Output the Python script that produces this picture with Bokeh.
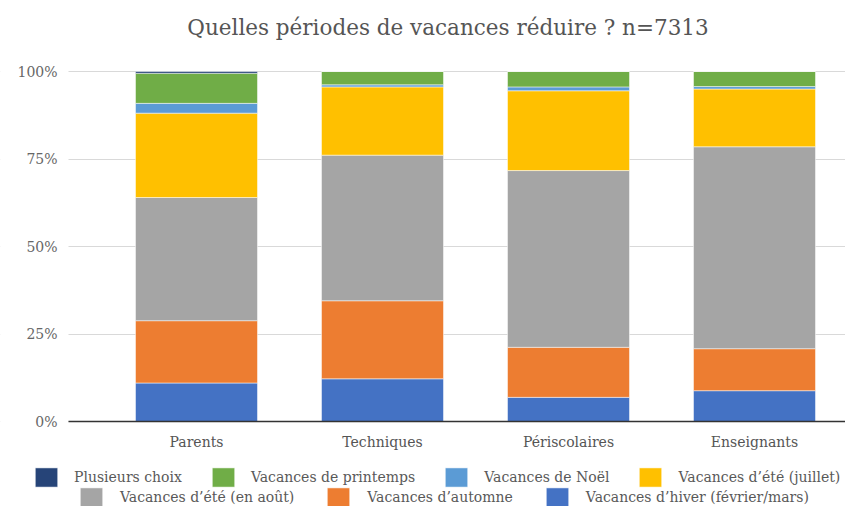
from bokeh.plotting import figure
from bokeh.models import (ColumnDataSource, Range1d, FixedTicker, Legend, LegendItem,
                          PrintfTickFormatter, BoxAnnotation, Label)
from bokeh.embed import file_html
from bokeh.resources import INLINE

# ---- data (percent of answers per group) ----
categories = ["Parents", "Techniques", "Périscolaires", "Enseignants"]
hiver      = [11.0, 12.2, 6.9, 8.8]    # Vacances d'hiver (février/mars)
automne    = [17.8, 22.3, 14.3, 12.0]  # Vacances d'automne
aout       = [35.2, 41.6, 50.5, 57.7]  # Vacances d'été (en août)
juillet    = [24.1, 19.5, 22.8, 16.5]  # Vacances d'été (juillet)
noel       = [2.8, 0.6, 1.1, 0.7]      # Vacances de Noël
printemps  = [8.6, 3.8, 4.4, 4.3]      # Vacances de printemps
plusieurs  = [0.5, 0.0, 0.0, 0.0]      # Plusieurs choix

series_keys = ["hiver", "automne", "aout", "juillet", "noel", "printemps", "plusieurs"]
series_labels = ["Vacances d\u2019hiver (février/mars)", "Vacances d\u2019automne",
                 "Vacances d\u2019été (en août)", "Vacances d\u2019été (juillet)",
                 "Vacances de Noël", "Vacances de printemps", "Plusieurs choix"]
colors = ["#4472C4", "#ED7D31", "#A5A5A5", "#FFC000", "#5B9BD5", "#70AD47", "#264478"]
y_ticks = [0, 25, 50, 75, 100]
title_text = "Quelles périodes de vacances réduire ? n=7313"

source = ColumnDataSource(dict(
    x=list(range(len(categories))),
    hiver=hiver, automne=automne, aout=aout, juillet=juillet,
    noel=noel, printemps=printemps, plusieurs=plusieurs,
))

FONT = "DejaVu Serif"

# layout constants (pixels)
W, H = 845, 506
TOP = 71            # pixel row of 100 %
ZERO_Y = 421        # pixel row of 0 %
PLOT_LEFT = 68      # left end of grid / axis line
BAND = 186          # pixels per category
FIRST_CENTER = 196  # pixel x of the first bar centre
TITLE_X, TITLE_BASE = 447.5, 27

ppu_y = (ZERO_Y - TOP) / 100.0
y_start = -(H - ZERO_Y) / ppu_y
y_end = 100 + TOP / ppu_y
x_start = -FIRST_CENTER / BAND
x_end = (W - FIRST_CENTER) / BAND
x_left = x_start + PLOT_LEFT / BAND

p = figure(width=W, height=H, output_backend="svg", toolbar_location=None,
           x_range=Range1d(x_start, x_end), y_range=Range1d(y_start, y_end),
           min_border_left=0, min_border_right=0, min_border_top=0,
           min_border_bottom=0)

renderers = p.vbar_stack(series_keys, x="x", width=0.656, color=colors,
                         line_color="white", line_width=0.5, source=source)

p.outline_line_color = None
p.background_fill_color = "white"
p.border_fill_color = "white"

# title
p.add_layout(Label(x=x_start + TITLE_X / BAND, y=100 + (TOP - TITLE_BASE) / ppu_y,
                   text=title_text, text_align="center", text_baseline="alphabetic",
                   text_font=FONT, text_font_size="21.5px", text_color="#555555"))

# axes (drawn inside the frame at fixed positions)
p.yaxis.fixed_location = x_left
p.yaxis.ticker = FixedTicker(ticks=y_ticks)
p.yaxis.formatter = PrintfTickFormatter(format="%d%%")
p.yaxis.axis_line_color = None
p.yaxis.major_tick_line_color = None
p.yaxis.minor_tick_line_color = None
p.yaxis.major_label_standoff = 5
p.yaxis.major_label_text_font = FONT
p.yaxis.major_label_text_font_size = "14px"
p.yaxis.major_label_text_color = "#666666"

p.xaxis.fixed_location = 0
p.xaxis.bounds = (x_left, x_end)
p.xaxis.ticker = FixedTicker(ticks=list(range(len(categories))))
p.xaxis.major_label_overrides = {i: c for i, c in enumerate(categories)}
p.xaxis.axis_line_color = "#333333"
p.xaxis.axis_line_width = 1.5
p.xaxis.major_tick_line_color = None
p.xaxis.minor_tick_line_color = None
p.xaxis.major_tick_out = 0
p.xaxis.major_tick_in = 0
p.xaxis.major_label_standoff = 12
p.xaxis.major_label_text_font = FONT
p.xaxis.major_label_text_font_size = "14px"
p.xaxis.major_label_text_color = "#555555"

p.xgrid.grid_line_color = None
p.ygrid.grid_line_color = "#d9d9d9"
p.ygrid.grid_line_width = 1

# hide the grid lines left of the plotting area (where the % labels sit)
p.add_layout(BoxAnnotation(right=x_left, fill_color="white", fill_alpha=1.0,
                           line_alpha=0, level="underlay"))

# legends: two rows, below the x axis
rmap = dict(zip(series_keys, renderers))
lmap = dict(zip(series_keys, series_labels))
row1 = ["plusieurs", "printemps", "noel", "juillet"]
row2 = ["aout", "automne", "hiver"]


def make_legend(keys, loc, spacing, standoff):
    lg = Legend(items=[LegendItem(label=lmap[k], renderers=[rmap[k]]) for k in keys],
                location=loc, orientation="horizontal")
    lg.glyph_width = 28
    lg.glyph_height = 24
    lg.label_standoff = standoff
    lg.spacing = spacing
    lg.padding = 0
    lg.margin = 0
    lg.border_line_color = None
    lg.background_fill_alpha = 0
    lg.label_text_font = FONT
    lg.label_text_font_size = "14px"
    lg.label_text_color = "#595959"
    lg.label_height = 24
    return lg


p.add_layout(make_legend(row1, (32, 17), 27, 14))
p.add_layout(make_legend(row2, (77, -3), 30, 15))

open("out.html", "w").write(file_html(p, INLINE))
